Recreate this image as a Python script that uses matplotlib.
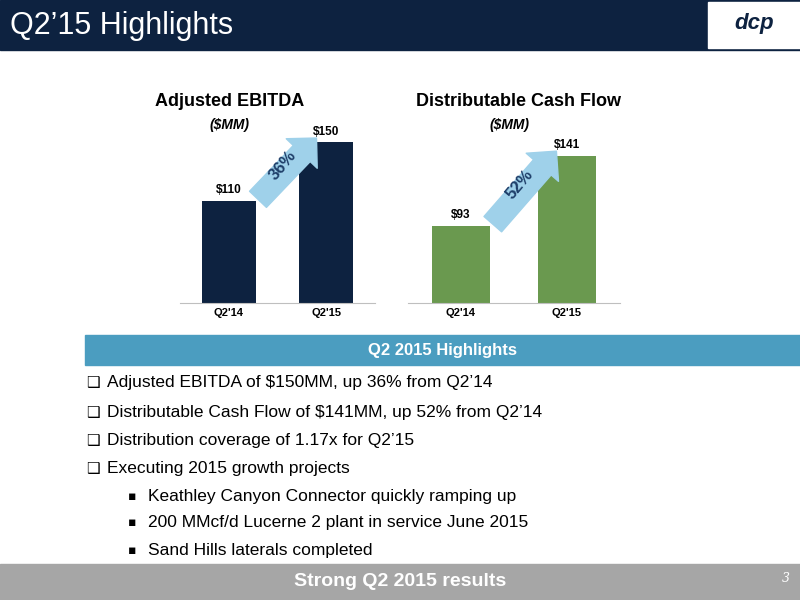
import matplotlib.pyplot as plt
from matplotlib.patches import Rectangle

periods = ["Q2'14", "Q2'15"]
ebitda = [110, 150]
dcf = [93, 141]
growth = ["36%", "52%"]
bullets = ["Adjusted EBITDA of $150MM, up 36% from Q2\u201914",
           "Distributable Cash Flow of $141MM, up 52% from Q2\u201914",
           "Distribution coverage of 1.17x for Q2\u201915",
           "Executing 2015 growth projects"]
subbullets = ["Keathley Canyon Connector quickly ramping up",
              "200 MMcf/d Lucerne 2 plant in service June 2015",
              "Sand Hills laterals completed"]

W, H = 800, 600
fig = plt.figure(figsize=(8, 6), dpi=100)
plt.rcParams['font.family'] = ['Liberation Sans', 'DejaVu Sans']

def fx(x): return x / W
def fy(y): return 1 - y / H

# header and footer bands
fig.patches.append(Rectangle((0, fy(50)), 1, 50 / H, transform=fig.transFigure, color='#0d2240', zorder=0))
fig.text(fx(10), fy(26), "Q2\u201915 Highlights", color='white', fontsize=22, va='center')
fig.patches.append(Rectangle((fx(708), fy(48)), 92 / W, 46 / H, transform=fig.transFigure, color='white', zorder=1))
fig.text(fx(754), fy(24), "dcp", color='#0d2240', fontsize=16, style='italic', weight='bold', ha='center', va='center', zorder=2)
fig.patches.append(Rectangle((0, 0), 1, 36 / H, transform=fig.transFigure, color='#a6a6a6', zorder=0))
fig.text(0.5, fy(582), "Strong Q2 2015 results", color='white', fontsize=14, weight='bold', ha='center', va='center')
fig.text(fx(790), fy(578), "3", color='white', fontsize=9, ha='right', va='center', family='serif', style='italic')

def bar_chart(left, right, vals, color, title, pct, title_x, sub_x):
    ymin, ymax = 40, 170
    top = 303 - 1.46 * (ymax - ymin)
    ax = fig.add_axes([fx(left), fy(303), (right - left) / W, (303 - top) / H])
    ax.bar([0, 1], vals, width=0.55, color=color)
    ax.set_ylim(ymin, ymax)
    ax.set_xlim(-0.5, 1.5)
    ax.set_xticks([0, 1], periods, fontsize=8, weight='bold')
    ax.tick_params(length=0)
    ax.set_yticks([])
    for s in ['top', 'left', 'right']:
        ax.spines[s].set_visible(False)
    ax.spines['bottom'].set_color('#bfbfbf')
    for i, v in enumerate(vals):
        ax.text(i, v + 3, f"${v}", ha='center', va='bottom', fontsize=8.5, weight='bold')
    ax.annotate("", xy=(0.9, vals[1] + 3), xytext=(0.3, vals[0] + 1),
                arrowprops=dict(arrowstyle="simple,head_width=2.2,head_length=1.1,tail_width=1.2",
                                color='#9fd1ea', shrinkA=0, shrinkB=0, mutation_scale=14), zorder=3)
    ax.text(0.55, (vals[0] + vals[1]) / 2 + 4, pct, rotation=50, ha='center', va='center',
            fontsize=12, weight='bold', color='#1f3f6a', zorder=4)
    fig.text(fx(title_x), fy(101), title, ha='center', va='center', fontsize=13, weight='bold')
    fig.text(fx(sub_x), fy(125), "($MM)", ha='center', va='center',
             fontsize=10, weight='bold', style='italic')

bar_chart(180, 375, ebitda, '#0d2240', "Adjusted EBITDA", growth[0], 230, 230)
bar_chart(408, 620, dcf, '#6a994f', "Distributable Cash Flow", growth[1], 518, 510)

# highlights band
fig.patches.append(Rectangle((fx(85), fy(365)), 715 / W, 30 / H, transform=fig.transFigure, color='#4b9dc0', zorder=0))
fig.text(fx(442), fy(351), "Q2 2015 Highlights", color='white', fontsize=12, weight='bold', ha='center', va='center')

ys = [383, 412, 440, 468]
for y, b in zip(ys, bullets):
    fig.text(fx(86), fy(y), "\u2751", fontsize=11, va='center', family='DejaVu Sans')
    fig.text(fx(107), fy(y), b, fontsize=12.5, va='center')
for y, b in zip([496, 523, 550], subbullets):
    fig.text(fx(128), fy(y), "\u25aa", fontsize=9, va='center', family='DejaVu Sans')
    fig.text(fx(148), fy(y), b, fontsize=12.5, va='center')

fig.savefig("out.png", dpi=100)
